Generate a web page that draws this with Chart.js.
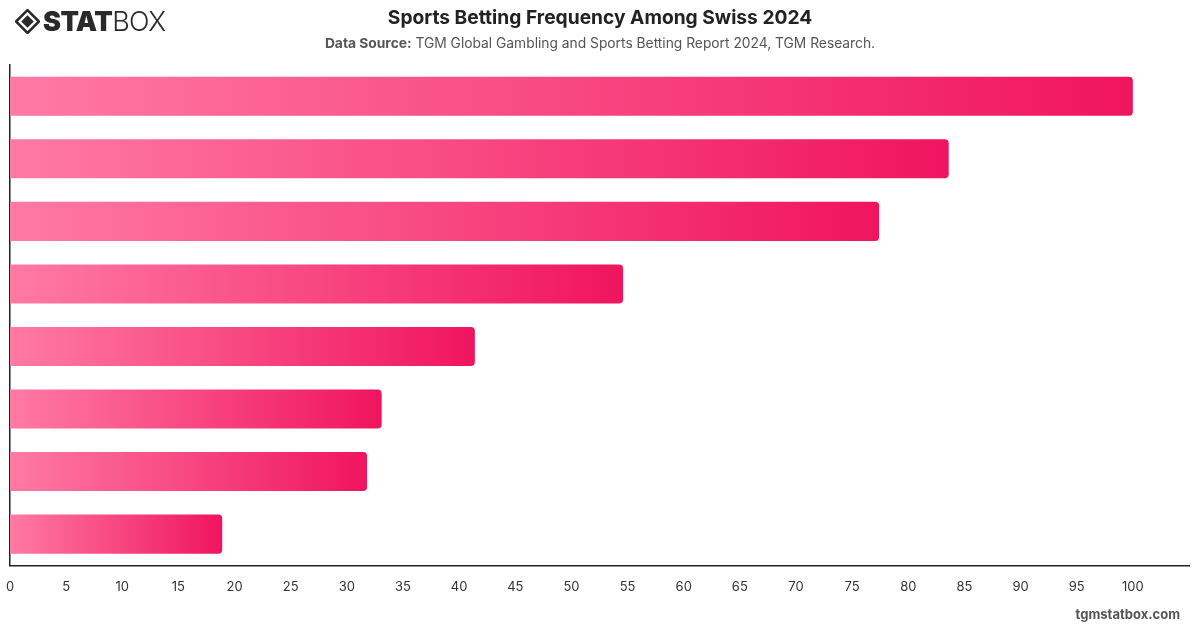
<!DOCTYPE html>
<html>
<head>
<meta charset="utf-8">
<script src="https://cdn.jsdelivr.net/npm/chart.js@4"></script>
<style>
  html, body { margin: 0; padding: 0; background: #fff; }
  body { width: 1200px; height: 628px; position: relative; overflow: hidden; font-family: Inter, "Noto Sans", sans-serif; }
  #wrap { position: absolute; left: 0; top: 0; width: 1200px; height: 628px; }
  .logo { position: absolute; left: 15px; top: 8px; display: flex; align-items: center; }
  .logo span { font-size: 27px; line-height: 27px; color: #2a2a2a; letter-spacing: -0.6px; }
  .logo .heavy { font-weight: 900; }
  .logo .light { font-weight: 300; }
  .title { position: absolute; left: 0; width: 1200px; top: 5px; text-align: center; font-size: 19.2px; font-weight: 700; color: #222; }
  .sub { position: absolute; left: 0; width: 1200px; top: 35px; text-align: center; font-size: 13.8px; color: #555; }
  .sub b { font-weight: 700; }
  .foot { position: absolute; right: 20px; top: 606px; font-size: 13px; font-weight: 700; color: #555; }
</style>
</head>
<body>
<div id="wrap"><canvas id="chart" width="1200" height="628"></canvas></div>
<div class="logo">
  <svg width="25" height="25" viewBox="0 0 24 24" style="margin-right:3px">
    <path d="M12 1 L23 12 L12 23 L1 12 Z" fill="none" stroke="#2a2a2a" stroke-width="2.4"/>
    <path d="M12 6 L18 12 L12 18 L6 12 Z" fill="#2a2a2a"/>
  </svg>
  <span class="heavy">STAT</span><span class="light">BOX</span>
</div>
<div class="title">Sports Betting Frequency Among Swiss 2024</div>
<div class="sub"><b>Data Source:</b> TGM Global Gambling and Sports Betting Report 2024, TGM Research.</div>
<div class="foot">tgmstatbox.com</div>
<script>
const categories = ['Category 1', 'Category 2', 'Category 3', 'Category 4', 'Category 5', 'Category 6', 'Category 7', 'Category 8'];
const values = [100, 83.6, 77.4, 54.6, 41.4, 33.1, 31.8, 18.9];
const xMax = 105;

function barGradient(ctx) {
  const chart = ctx.chart;
  if (!chart.chartArea || ctx.raw == null) return '#f4457e';
  const x = chart.scales.x;
  const start = x.getPixelForValue(0);
  const end = x.getPixelForValue(ctx.raw);
  const g = chart.ctx.createLinearGradient(start, 0, end, 0);
  g.addColorStop(0, '#ff7aa4');
  g.addColorStop(1, '#f0145f');
  return g;
}

new Chart(document.getElementById('chart'), {
  type: 'bar',
  data: {
    labels: categories,
    datasets: [{
      data: values,
      backgroundColor: barGradient,
      borderRadius: { topRight: 4, bottomRight: 4 },
      borderSkipped: 'start',
      categoryPercentage: 0.8,
      barPercentage: 0.78
    }]
  },
  options: {
    indexAxis: 'y',
    responsive: false,
    animation: false,
    layout: { padding: { left: 10, right: 11, top: 65, bottom: 19 } },
    plugins: { legend: { display: false }, tooltip: { enabled: false } },
    scales: {
      x: {
        min: 0, max: xMax,
        grid: { display: false, drawTicks: false },
        border: { display: true, color: '#222', width: 1.5 },
        afterFit: s => { s.paddingLeft = 0; s.paddingRight = 0; },
        ticks: {
          stepSize: 5, padding: 14, color: '#333',
          font: { family: 'Inter', size: 13 },
          callback: v => v === xMax ? '' : v
        }
      },
      y: {
        grid: { display: false, drawTicks: false },
        border: { display: true, color: '#222', width: 1.5 },
        ticks: { display: false }
      }
    }
  }
});
</script>
</body>
</html>
